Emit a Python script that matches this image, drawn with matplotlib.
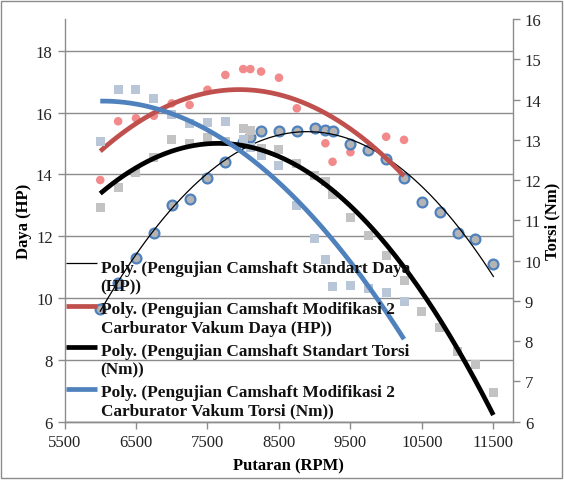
import matplotlib
matplotlib.use("Agg")
import matplotlib.pyplot as plt
from matplotlib.patches import Rectangle
import numpy as np

# data
rpm_std = [6000, 6250, 6500, 6750, 7000, 7250, 7500, 7750, 8000, 8100, 8250, 8500, 8750,
           9000, 9150, 9250, 9500, 9750, 10000, 10250, 10500, 10750, 11000, 11250, 11500]
daya_std = [9.65, 10.5, 11.3, 12.1, 13.0, 13.2, 13.9, 14.4, 15.05, 15.2, 15.4, 15.4, 15.4,
            15.5, 15.45, 15.4, 15.0, 14.8, 14.5, 13.9, 13.1, 12.8, 12.1, 11.9, 11.1]
torsi_std = [11.32, 11.82, 12.19, 12.57, 13.0, 12.9, 13.05, 12.95, 13.27, 13.23, 12.79, 12.75, 12.42,
             12.11, 11.96, 11.63, 11.06, 10.62, 10.12, 9.50, 8.74, 8.34, 7.74, 7.43, 6.73]

rpm_mod = [6000, 6250, 6500, 6750, 7000, 7250, 7500, 7750, 8000, 8100, 8250, 8500, 8750,
           9000, 9150, 9250, 9500, 9750, 10000, 10250]
daya_mod = [13.82, 15.72, 15.82, 15.9, 16.3, 16.25, 16.74, 17.22, 17.41, 17.41, 17.33, 17.13, 16.14,
            15.44, 15.01, 14.41, 14.72, 14.8, 15.22, 15.12]
torsi_mod = [12.96, 14.24, 14.24, 14.03, 13.64, 13.41, 13.43, 13.45, 13.0, 12.8, 12.6, 12.36, 11.36,
             10.54, 10.02, 9.36, 9.38, 9.3, 9.21, 8.98]

x_ticks = [5500, 6500, 7500, 8500, 9500, 10500, 11500]
left_ticks = [6, 8, 10, 12, 14, 16, 18]
right_ticks = [6, 7, 8, 9, 10, 11, 12, 13, 14, 15, 16]

legend_labels = [
    "Poly. (Pengujian Camshaft Standart Daya\n(HP))",
    "Poly. (Pengujian Camshaft Modifikasi 2\nCarburator Vakum Daya (HP))",
    "Poly. (Pengujian Camshaft Standart Torsi\n(Nm))",
    "Poly. (Pengujian Camshaft Modifikasi 2\nCarburator Vakum Torsi (Nm))",
]

GRID = '#8c8c8c'
SERIF = ['Liberation Serif', 'DejaVu Serif']


def trend(x, y, deg=2):
    coef = np.polyfit(x, y, deg)
    xs = np.linspace(min(x), max(x), 200)
    return xs, np.polyval(coef, xs)


fig = plt.figure(figsize=(5.64, 4.81), dpi=100)
fig.patches.append(Rectangle((0.002, 0.004), 0.994, 0.992, transform=fig.transFigure,
                             fill=False, edgecolor='#8c8c8c', linewidth=1.0))

ax = fig.add_axes([0.1144, 0.1212, 0.7952, 0.8372])
ax2 = ax.twinx()

# markers
ax2.scatter(rpm_std, torsi_std, marker='s', s=42, color='#c3c3c3', edgecolors='none', zorder=2)
ax2.scatter(rpm_mod, torsi_mod, marker='s', s=42, color='#b9c6d8', edgecolors='none', zorder=2)
ax.scatter(rpm_mod, daya_mod, marker='o', s=38, color='#f2898a', edgecolors='none', zorder=3)
ax.scatter(rpm_std, daya_std, marker='o', s=50, facecolor='#b4b4b4', edgecolors='#4f81bd',
           linewidths=1.6, zorder=3)

# polynomial trend lines
xs, ys = trend(rpm_std, daya_std)
ax.plot(xs, ys, color='black', lw=0.9, zorder=4)
xs, ys = trend(rpm_mod, daya_mod)
ax.plot(xs, ys, color='#c0504d', lw=3.4, zorder=4, solid_capstyle='butt')
xs, ys = trend(rpm_std, torsi_std)
ax2.plot(xs, ys, color='black', lw=3.4, zorder=4, solid_capstyle='butt')
xs, ys = trend(rpm_mod, torsi_mod)
ax2.plot(xs, ys, color='#4f81bd', lw=3.4, zorder=4, solid_capstyle='butt')

ax.set_xlim(5500, 11775)
ax.set_ylim(6, 19.03)
ax2.set_ylim(6, 16)

ax.set_xticks(x_ticks)
ax.set_yticks(left_ticks)
ax2.set_yticks(right_ticks)
ax.grid(axis='y', color=GRID, lw=1.0)
ax.set_axisbelow(True)

for a in (ax, ax2):
    a.spines['top'].set_visible(False)
    for s in ('left', 'right', 'bottom'):
        a.spines[s].set_color(GRID)
        a.spines[s].set_linewidth(1.0)
    a.tick_params(colors=GRID, length=5, width=1.0, direction='out', labelcolor='#222222')
ax2.spines['left'].set_visible(False)
ax.spines['right'].set_visible(False)

for lab in ax.get_xticklabels() + ax.get_yticklabels() + ax2.get_yticklabels():
    lab.set_family(SERIF)
    lab.set_fontsize(12)

ax.set_xlabel("Putaran (RPM)", family=SERIF, fontsize=12, fontweight='bold', labelpad=6)
ax.set_ylabel("Daya (HP)", family=SERIF, fontsize=12, fontweight='bold', labelpad=3)
ax2.set_ylabel("Torsi (Nm)", family=SERIF, fontsize=12, fontweight='bold', rotation=90, labelpad=2)

# legend drawn by hand so the key sits on the first text line
leg_colors = ['black', '#c0504d', 'black', '#4f81bd']
leg_widths = [0.9, 3.4, 3.4, 3.4]
ax_h = 402.7
line_y = [264.3, 307.3, 348.3, 390.0]
text_y = [278.0, 319.5, 361.0, 402.0]  # centre of each two-line block
for lbl, c, w, ly, ty in zip(legend_labels, leg_colors, leg_widths, line_y, text_y):
    yl = (422.7 - ly) / ax_h
    yt = (422.7 - ty) / ax_h
    ax2.plot([(66 - 64.5) / 448.5, (97.3 - 64.5) / 448.5], [yl, yl], transform=ax2.transAxes,
             color=c, lw=w, solid_capstyle='butt', clip_on=False, zorder=6)
    ax2.text((100.7 - 64.5) / 448.5, yt, lbl, transform=ax2.transAxes, ha='left', va='center',
             family=SERIF, fontsize=12.4, fontweight='bold', linespacing=1.18, zorder=6,
             color='#111111')

fig.savefig('out.png', dpi=100)
